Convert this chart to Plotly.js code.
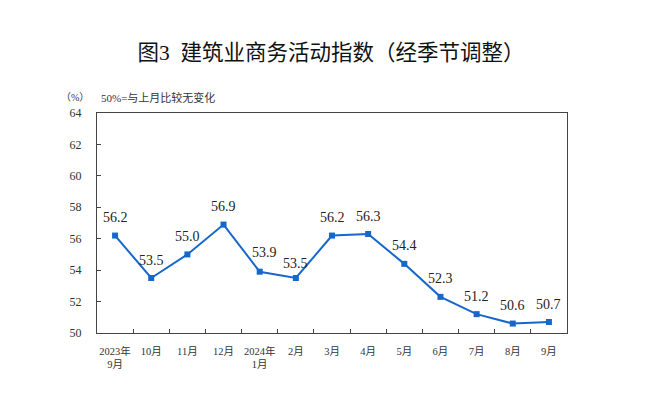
<!DOCTYPE html>
<html><head><meta charset="utf-8">
<script src="https://cdn.plot.ly/plotly-3.0.1.min.js"></script>
<style>html,body{margin:0;padding:0;background:#fff;}#chart{width:649px;height:418px;}</style>
</head><body><div id="chart"></div>
<script>
const categories = ["2023年<br>9月","10月","11月","12月","2024年<br>1月","2月","3月","4月","5月","6月","7月","8月","9月"];
const values = [56.2,53.5,55.0,56.9,53.9,53.5,56.2,56.3,54.4,52.3,51.2,50.6,50.7];
const yTicks = [50,52,54,56,58,60,62,64];

const FONT = "Liberation Serif, 'Noto Sans CJK SC', serif";
const blue = "#1567cc";

const trace = {
  x: categories.map((c,i)=>i),
  y: values,
  type: "scatter",
  mode: "lines+markers",
  line: {color: blue, width: 2},
  marker: {color: blue, symbol: "square", size: 6},
  hoverinfo: "skip"
};

const tickTrace = {x: [0], y: [null], xaxis: "x2", yaxis: "y", type: "scatter", mode: "none", hoverinfo: "skip"};

const labelAnns = values.map((v,i)=>({
  x: i, y: v, xref: "x", yref: "y", text: v.toFixed(1), showarrow: false,
  xanchor: "center", yanchor: "middle",
  xshift: i === 4 ? 5 : 0,
  yshift: i === 4 ? 19 : (i === 5 ? 15 : 18),
  font: {family: FONT, size: 14, color: "#222"}
}));

const layout = {
  width: 649, height: 418,
  margin: {l: 97, r: 82, t: 113, b: 85},
  paper_bgcolor: "#fff", plot_bgcolor: "#fff",
  showlegend: false,
  title: {text: "图3  建筑业商务活动指数（经季节调整）", x: 0.51, xanchor: "center", y: 0.875, yanchor: "middle",
          font: {family: FONT, size: 21.5, color: "#111"}},
  xaxis: {
    tickmode: "array", tickvals: categories.map((c,i)=>i), ticktext: categories,
    range: [-0.5, 12.5], ticks: "", showgrid: false, zeroline: false,
    showline: true, linecolor: "#444", linewidth: 1, mirror: true,
    tickfont: {family: FONT, size: 10.5, color: "#333"}, ticklabelstandoff: 8
  },
  xaxis2: {
    overlaying: "x", range: [-0.5, 12.5], tickmode: "array",
    tickvals: [0.5,1.5,2.5,3.5,4.5,5.5,6.5,7.5,8.5,9.5,10.5,11.5],
    ticks: "inside", ticklen: 4, tickcolor: "#444", showticklabels: false,
    showgrid: false, zeroline: false, showline: false, side: "bottom", anchor: "y"
  },
  yaxis: {
    range: [50, 64], tickmode: "array", tickvals: yTicks, ticktext: yTicks.map(String),
    ticks: "inside", ticklen: 4, tickcolor: "#444", showgrid: false, zeroline: false,
    showline: true, linecolor: "#444", linewidth: 1, mirror: true,
    tickfont: {family: FONT, size: 12, color: "#333"}, ticklabelstandoff: 12
  },
  annotations: labelAnns.concat([
    {text: "（%）", xref: "paper", yref: "paper", x: -0.08, y: 1.07, xanchor: "left", yanchor: "middle", showarrow: false,
     font: {family: FONT, size: 10, color: "#333"}},
    {text: "50%=与上月比较无变化", xref: "paper", yref: "paper", x: 0.005, y: 1.07, xanchor: "left", yanchor: "middle", showarrow: false,
     font: {family: FONT, size: 11, color: "#333"}}
  ])
};

Plotly.newPlot("chart", [trace, tickTrace], layout, {displayModeBar: false, staticPlot: true});
</script></body></html>
